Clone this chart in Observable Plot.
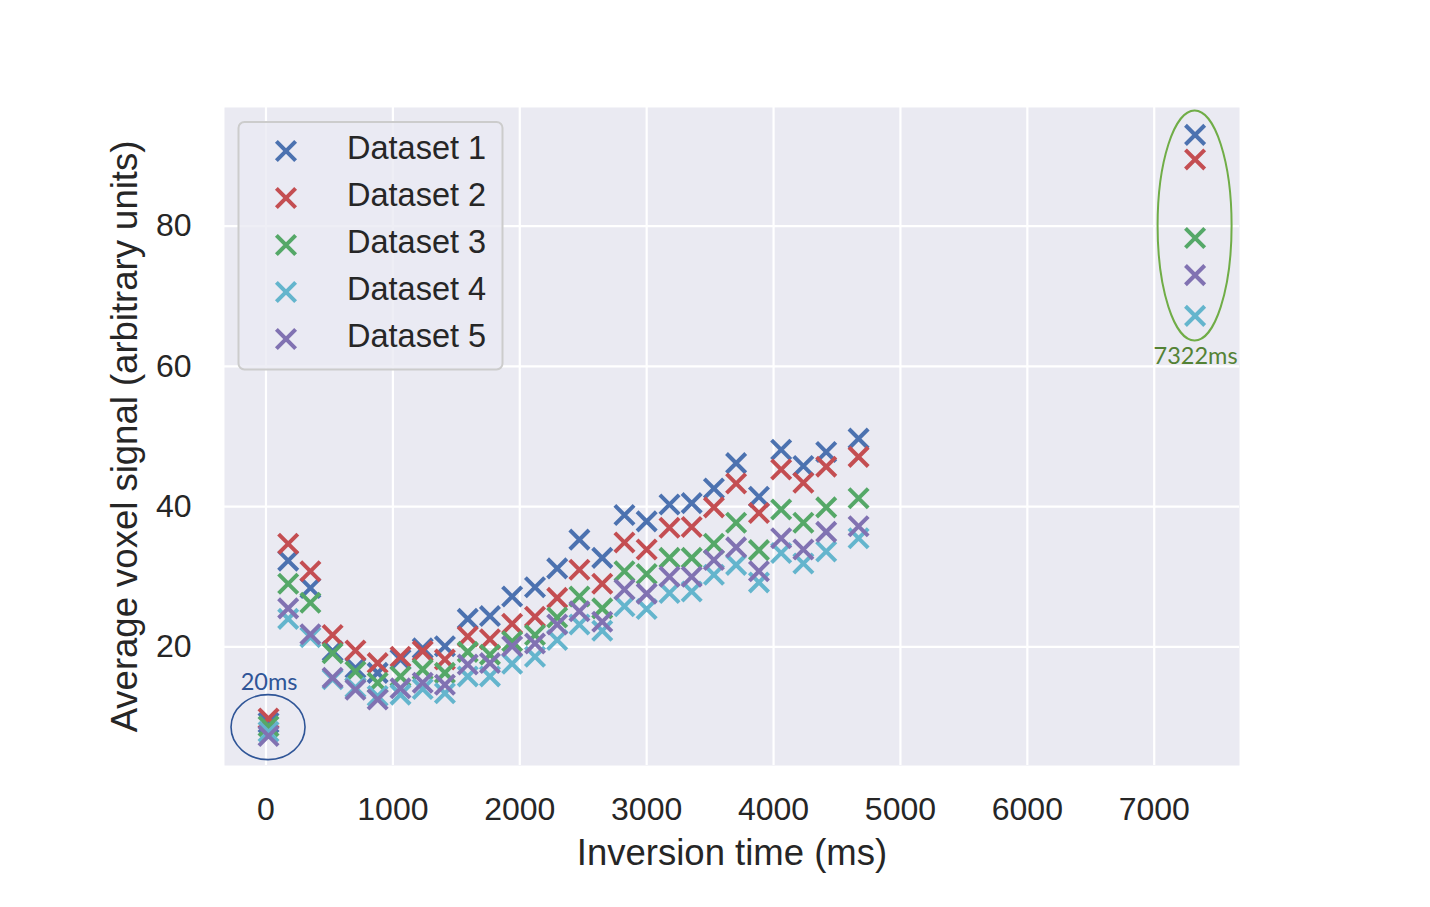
<!DOCTYPE html>
<html>
<head>
<meta charset="utf-8">
<script src="https://cdn.jsdelivr.net/npm/d3@7"></script>
<script src="https://cdn.jsdelivr.net/npm/@observablehq/plot@0.6"></script>
<style>
  html, body { margin: 0; padding: 0; background: #ffffff; }
  #chart { width: 1430px; height: 907px; }
</style>
</head>
<body>
<div id="chart"></div>
<script>
// ---- data ----
const inversionTimes = [20, 175, 350, 525, 705, 880, 1060, 1235, 1410, 1590, 1765, 1940, 2120, 2295, 2470, 2650, 2825, 3000, 3180, 3355, 3530, 3705, 3885, 4060, 4235, 4415, 4670, 7322];
const seriesNames = ["Dataset 1", "Dataset 2", "Dataset 3", "Dataset 4", "Dataset 5"];
const dataset1 = [9.2, 32.3, 28.4, 19.4, 17.0, 16.3, 18.2, 19.8, 20.1, 24.0, 24.4, 27.2, 28.5, 31.2, 35.3, 32.7, 38.8, 37.9, 40.3, 40.5, 42.6, 46.2, 41.4, 48.1, 45.8, 47.8, 49.7, 93.0];
const dataset2 = [9.8, 34.7, 30.8, 21.7, 19.5, 17.7, 18.6, 19.4, 18.2, 21.5, 21.1, 23.3, 24.3, 27.0, 31.0, 29.0, 34.9, 33.9, 37.0, 37.1, 39.9, 43.3, 39.1, 45.3, 43.4, 45.7, 47.1, 89.5];
const dataset3 = [8.7, 29.0, 26.3, 19.1, 16.5, 14.9, 15.8, 16.8, 16.3, 19.3, 18.9, 20.8, 21.7, 24.2, 27.2, 25.5, 30.8, 30.4, 32.7, 32.7, 34.7, 37.7, 33.8, 39.6, 37.7, 39.9, 41.2, 78.3];
const dataset4 = [7.9, 24.0, 21.4, 15.4, 14.2, 13.0, 13.2, 14.0, 13.4, 15.8, 15.8, 17.6, 18.6, 21.0, 23.2, 22.3, 25.8, 25.4, 27.7, 27.9, 30.3, 31.7, 29.2, 33.4, 31.9, 33.6, 35.5, 67.2];
const dataset5 = [7.3, 25.5, 21.8, 15.6, 13.9, 12.5, 14.1, 14.9, 14.6, 17.5, 17.7, 20.1, 20.5, 23.2, 25.1, 23.6, 28.2, 27.6, 30.0, 30.0, 32.4, 34.2, 30.8, 35.5, 33.9, 36.4, 37.2, 73.0];
const xTicks = [0, 1000, 2000, 3000, 4000, 5000, 6000, 7000];
const yTicks = [20, 40, 60, 80];
const annotations = [
  {x: 20, y: 8.5, label: "20ms"},
  {x: 7322, y: 80, label: "7322ms"}
];

// ---- styling ----
const colors = ["#4c72b0", "#c44e52", "#55a868", "#64b5cd", "#8172b2"];
const allSeries = [dataset1, dataset2, dataset3, dataset4, dataset5];
const rows = [];
allSeries.forEach((vals, si) => {
  vals.forEach((v, i) => rows.push({t: inversionTimes[i], v, series: seriesNames[si]}));
});

const mLeft = 224, mRight = 191, mTop = 107, mBottom = 142;
const markerR = 8.8, markerSW = 4;

const chart = Plot.plot({
  width: 1430,
  height: 907,
  marginLeft: mLeft,
  marginRight: mRight,
  marginTop: mTop,
  marginBottom: mBottom,
  x: {domain: [-327, 7672]},
  y: {domain: [3.1, 96.9]},
  color: {domain: seriesNames, range: colors},
  style: {fontFamily: "'Liberation Sans', Arial, sans-serif", background: "#ffffff", color: "#262626", overflow: "visible"},
  marks: [
    Plot.frame({fill: "#eaeaf2", stroke: null}),
    Plot.gridX(xTicks, {stroke: "#ffffff", strokeOpacity: 1, strokeWidth: 2.2}),
    Plot.gridY(yTicks, {stroke: "#ffffff", strokeOpacity: 1, strokeWidth: 2.2}),
    Plot.axisX(xTicks, {tickSize: 0, tickPadding: 32, fontSize: 32, label: null, tickFormat: d => String(d)}),
    Plot.axisY(yTicks, {tickSize: 0, tickPadding: 33, fontSize: 32, label: null}),
    Plot.text(["Inversion time (ms)"], {frameAnchor: "bottom", dy: 88, fontSize: 36.5, lineAnchor: "middle", fill: "#262626"}),
    Plot.text(["Average voxel signal (arbitrary units)"], {frameAnchor: "left", dx: -99, rotate: -90, fontSize: 36.5, textAnchor: "middle", lineAnchor: "middle", fill: "#262626"}),
    Plot.dot(rows, {x: "t", y: "v", stroke: "series", symbol: "times", r: markerR, strokeWidth: markerSW})
  ]
});
document.getElementById("chart").appendChild(chart);

// ---- annotations (ellipses) positioned with the plot's scales ----
const sx = chart.scale("x"), sy = chart.scale("y");
const svg = d3.select(chart);
const ann = svg.append("g");
const annStyle = [
  {rx: 37, ry: 32.5, stroke: "#2f5597", sw: 1.6, text: "#2f5597", above: true},
  {rx: 37, ry: 115, stroke: "#70ad47", sw: 2, text: "#548235", above: false}
];
annotations.forEach((a, i) => {
  const s = annStyle[i];
  const cx = sx.apply(a.x), cy = sy.apply(a.y);
  ann.append("ellipse").attr("cx", cx).attr("cy", cy).attr("rx", s.rx).attr("ry", s.ry)
    .attr("fill", "none").attr("stroke", s.stroke).attr("stroke-width", s.sw);
  ann.append("text").attr("x", cx + 1).attr("y", s.above ? cy - s.ry - 14 : cy + s.ry + 14)
    .attr("text-anchor", "middle").attr("dominant-baseline", "central")
    .attr("font-family", "Lato, 'Open Sans', sans-serif").attr("font-size", 23.5)
    .attr("fill", s.text).text(a.label);
});

// ---- legend ----
const lg = svg.append("g");
lg.append("rect").attr("x", 238.5).attr("y", 122).attr("width", 264).attr("height", 247.5)
  .attr("rx", 6).attr("fill", "rgba(234,234,242,0.8)").attr("stroke", "#cccccc").attr("stroke-width", 2);
const sym = d3.symbol(d3.symbolTimes, markerR * markerR * Math.PI);
seriesNames.forEach((name, i) => {
  const yy = 151 + i * 47;
  lg.append("path").attr("d", sym()).attr("transform", `translate(286,${yy})`)
    .attr("fill", "none").attr("stroke", colors[i]).attr("stroke-width", markerSW);
  lg.append("text").attr("x", 347).attr("y", yy - 3).attr("dy", "0.35em")
    .attr("text-anchor", "start")
    .attr("font-family", "'Liberation Sans', Arial, sans-serif").attr("font-size", 32.5)
    .attr("fill", "#262626").text(name);
});
</script>
</body>
</html>
